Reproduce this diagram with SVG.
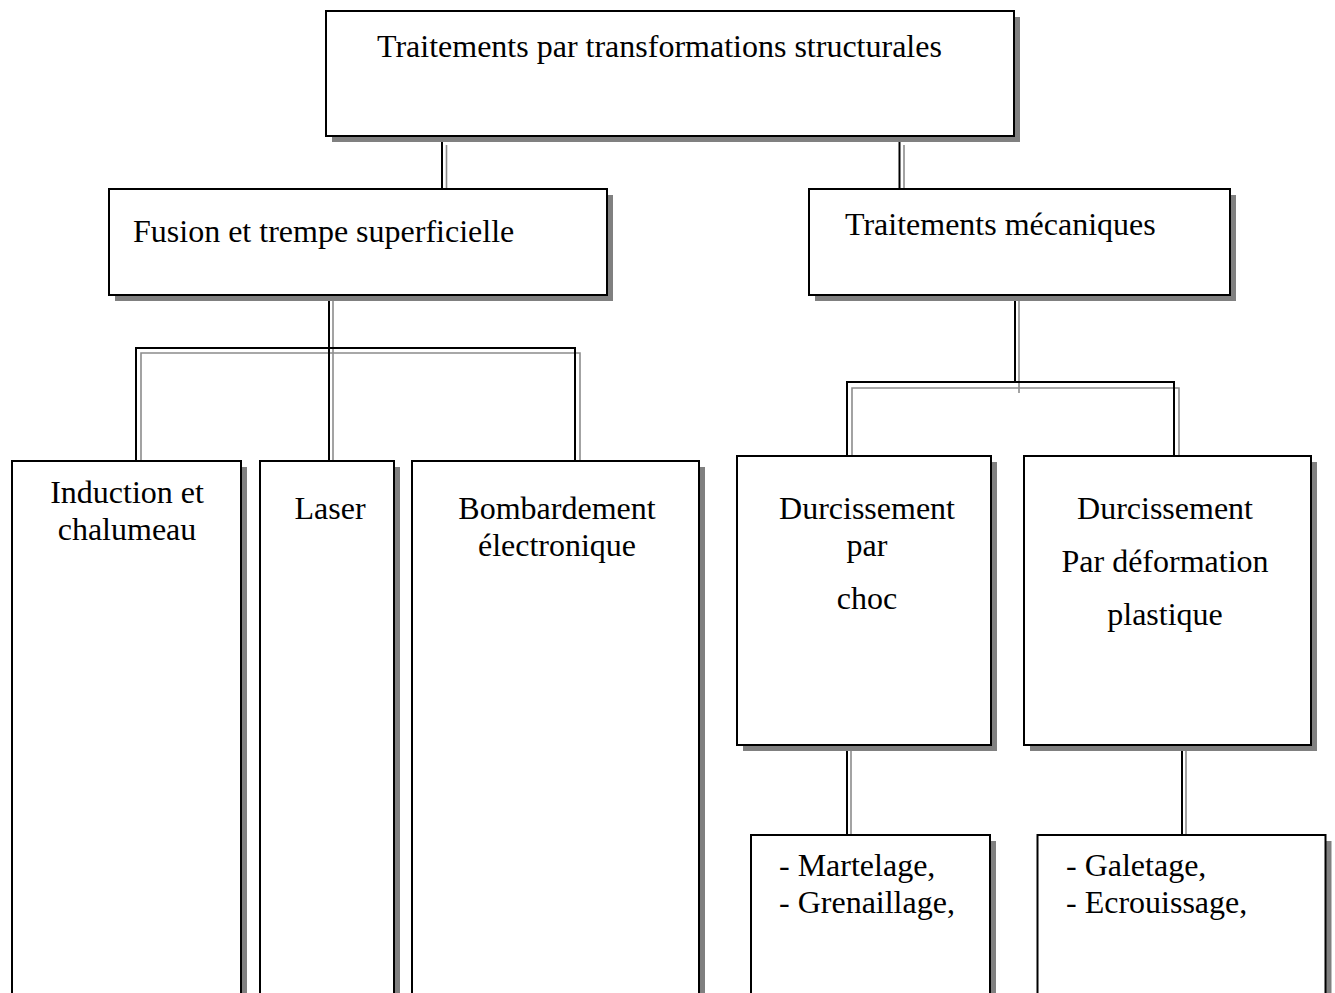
<svg xmlns="http://www.w3.org/2000/svg" width="1335" height="993" viewBox="0 0 1335 993">
<defs>
<style>
.shadow{fill:#808080;stroke:none}
.box{fill:#ffffff;stroke:#000000;stroke-width:2}
.lbl{font-family:"Liberation Serif","Times New Roman",serif;font-size:32px;fill:#000000}
.mid{text-anchor:middle}
.cb{fill:none;stroke:#000000;stroke-width:2}
.cg{fill:none;stroke:#8c8c8c;stroke-width:1.6}
</style>
</defs>
<rect width="1335" height="993" fill="#ffffff"/>
<g id="connectors">
<polyline class="cg" points="446.5,145 446.5,189"/>
<polyline class="cb" points="442,140 442,189"/>
<polyline class="cg" points="904,145 904,189"/>
<polyline class="cb" points="899.5,140 899.5,189"/>
<polyline class="cg" points="141,465 141,353 580,353 580,465"/>
<polyline class="cg" points="333,300 333,465"/>
<polyline class="cb" points="136,461 136,348 575,348 575,461"/>
<polyline class="cb" points="329,300 329,461"/>
<polyline class="cg" points="852,456 852,388 1179,388 1179,456"/>
<polyline class="cg" points="1019,300 1019,393"/>
<polyline class="cb" points="847,456 847,382 1174,382 1174,456"/>
<polyline class="cb" points="1015,300 1015,383"/>
<polyline class="cg" points="851,750 851,835"/>
<polyline class="cb" points="847,750 847,835"/>
<polyline class="cg" points="1186,750 1186,835"/>
<polyline class="cb" points="1182,750 1182,835"/>
</g>
<g id="n-root">
<rect class="shadow" x="332" y="17" width="688" height="125"/>
<rect class="box" x="326" y="11" width="688" height="125"/>
<text class="lbl" x="377" y="57">Traitements par transformations structurales</text>
</g>
<g id="n-fusion">
<rect class="shadow" x="115" y="195" width="498" height="106"/>
<rect class="box" x="109" y="189" width="498" height="106"/>
<text class="lbl" x="133" y="242">Fusion et trempe superficielle</text>
</g>
<g id="n-meca">
<rect class="shadow" x="815" y="195" width="421" height="106"/>
<rect class="box" x="809" y="189" width="421" height="106"/>
<text class="lbl" x="845" y="235">Traitements mécaniques</text>
</g>
<g id="n-induction">
<rect class="shadow" x="18" y="467" width="229" height="560"/>
<rect class="box" x="12" y="461" width="229" height="560"/>
<text class="lbl mid" x="127" y="503">Induction et</text>
<text class="lbl mid" x="127" y="540">chalumeau</text>
</g>
<g id="n-laser">
<rect class="shadow" x="266" y="467" width="134" height="560"/>
<rect class="box" x="260" y="461" width="134" height="560"/>
<text class="lbl mid" x="330" y="519">Laser</text>
</g>
<g id="n-bombardement">
<rect class="shadow" x="418" y="467" width="287" height="560"/>
<rect class="box" x="412" y="461" width="287" height="560"/>
<text class="lbl mid" x="557" y="519">Bombardement</text>
<text class="lbl mid" x="557" y="556">électronique</text>
</g>
<g id="n-choc">
<rect class="shadow" x="743" y="462" width="254" height="289"/>
<rect class="box" x="737" y="456" width="254" height="289"/>
<text class="lbl mid" x="867" y="519">Durcissement</text>
<text class="lbl mid" x="867" y="556">par</text>
<text class="lbl mid" x="867" y="609">choc</text>
</g>
<g id="n-deformation">
<rect class="shadow" x="1030" y="462" width="287" height="289"/>
<rect class="box" x="1024" y="456" width="287" height="289"/>
<text class="lbl mid" x="1165" y="519">Durcissement</text>
<text class="lbl mid" x="1165" y="572">Par déformation</text>
<text class="lbl mid" x="1165" y="625">plastique</text>
</g>
<g id="n-martelage">
<rect class="shadow" x="757" y="841" width="239" height="200"/>
<rect class="box" x="751" y="835" width="239" height="200"/>
<text class="lbl" x="779" y="876">- Martelage,</text>
<text class="lbl" x="779" y="913">- Grenaillage,</text>
</g>
<g id="n-galetage">
<rect class="shadow" x="1043.5" y="841" width="288" height="200"/>
<rect class="box" x="1037.5" y="835" width="288" height="200"/>
<text class="lbl" x="1066" y="876">- Galetage,</text>
<text class="lbl" x="1066" y="913">- Ecrouissage,</text>
</g>
</svg>
